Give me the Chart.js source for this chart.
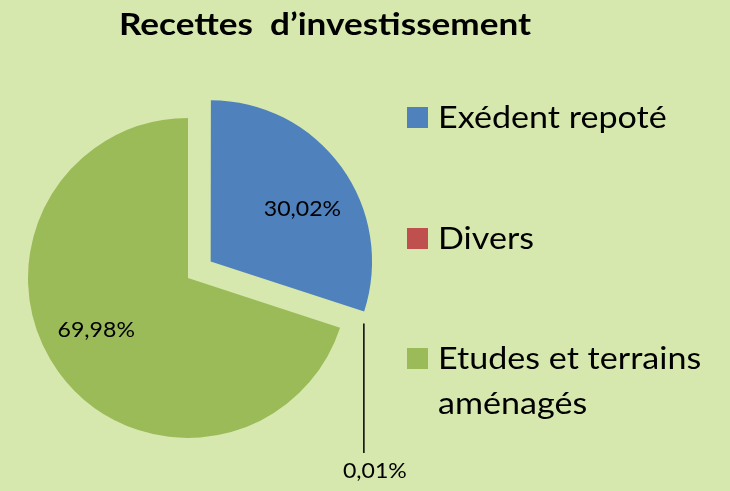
<!DOCTYPE html>
<html>
<head>
<meta charset="utf-8">
<script src="https://cdn.jsdelivr.net/npm/chart.js@4.4.1/dist/chart.umd.min.js"></script>
<style>
  html, body { margin: 0; padding: 0; background: #d7e8ae; }
  #wrap { width: 730px; height: 491px; }
</style>
</head>
<body>
<div id="wrap"><canvas id="pieChart" width="730" height="491"></canvas></div>
<script>
const chartTitle = 'Recettes  d\u2019investissement';
const categories = ['Exédent repoté', 'Divers', 'Etudes et terrains aménagés'];
const shares = [30.02, 0.01, 69.98];
const sliceColors = ['#4F81BD', '#C0504D', '#9BBB59'];
// décalage visible en pixels (Chart.js v4 divise "offset" par 4 au dessin)
const sliceOffsets = [28, 14, 0];

const FONT = 'Lato, "Open Sans", sans-serif';

function pct(v) {
    return v.toFixed(2).replace('.', ',') + '%';
}

// texte légèrement élargi pour imiter Calibri
function wideText(ctx, text, x, y, sx) {
    ctx.save();
    ctx.translate(x, y);
    ctx.scale(sx, 1);
    ctx.fillText(text, 0, 0);
    ctx.restore();
}

// titre, légende et étiquettes dessinés à la main
const decorations = {
    id: 'decorations',
    afterDraw(chart) {
        const ctx = chart.ctx;
        const meta = chart.getDatasetMeta(0);
        const area = chart.chartArea;

        ctx.save();
        ctx.fillStyle = '#000';

        // titre
        ctx.font = 'bold 30px ' + FONT;
        ctx.textAlign = 'center';
        ctx.textBaseline = 'alphabetic';
        wideText(ctx, chartTitle, 325, 35, 1.17);

        // étiquettes de données
        ctx.font = '21px ' + FONT;
        ctx.textBaseline = 'middle';
        meta.data.forEach((arc, i) => {
            const mid = (arc.startAngle + arc.endAngle) / 2;
            const off = sliceOffsets[i];
            if (shares[i] < 1) {
                // petite part : ligne de rappel verticale
                const d = arc.outerRadius + off + 11;
                const px = arc.x + Math.cos(mid) * d;
                const py = arc.y + Math.sin(mid) * d - 12;
                ctx.strokeStyle = '#000';
                ctx.lineWidth = 1.5;
                ctx.beginPath();
                ctx.moveTo(px, py);
                ctx.lineTo(px, area.bottom - 5);
                ctx.stroke();
                wideText(ctx, pct(shares[i]), px + 11, area.bottom + 13, 1.1);
            } else {
                const ox = Math.cos(mid) * off, oy = Math.sin(mid) * off;
                const a = mid + 0.11;
                const d = arc.outerRadius * 0.66;
                wideText(ctx, pct(shares[i]), arc.x + ox + Math.cos(a) * d, arc.y + oy + Math.sin(a) * d, 1.1);
            }
        });

        // légende
        ctx.font = '31px ' + FONT;
        ctx.textAlign = 'left';
        ctx.textBaseline = 'alphabetic';
        const boxX = 407, textX = 438, maxW = 285, sx = 1.1;
        const rowY = [117, 238, 358];
        categories.forEach((name, i) => {
            const cy = rowY[i];
            ctx.fillStyle = sliceColors[i];
            ctx.fillRect(boxX, cy - 10, 21, 21);
            ctx.fillStyle = '#000';
            // retour à la ligne simple
            const words = name.split(' ');
            let line = '', lines = [];
            words.forEach(w => {
                const test = line ? line + ' ' + w : w;
                if (ctx.measureText(test).width * sx > maxW && line) {
                    lines.push(line);
                    line = w;
                } else {
                    line = test;
                }
            });
            lines.push(line);
            lines.forEach((l, k) => wideText(ctx, l, textX, cy + 11 + k * 45, sx));
        });
        ctx.restore();
    }
};

new Chart(document.getElementById('pieChart'), {
    type: 'pie',
    data: {
        labels: categories,
        datasets: [{
            data: shares,
            backgroundColor: sliceColors,
            offset: sliceOffsets.map(o => o * 4),
            borderWidth: 0
        }]
    },
    options: {
        responsive: false,
        animation: false,
        radius: 160,
        layout: {
            padding: { left: 8, right: 362, top: 98, bottom: 33 }
        },
        plugins: {
            legend: { display: false },
            title: { display: false },
            tooltip: { enabled: false }
        }
    },
    plugins: [decorations]
});
</script>
</body>
</html>
